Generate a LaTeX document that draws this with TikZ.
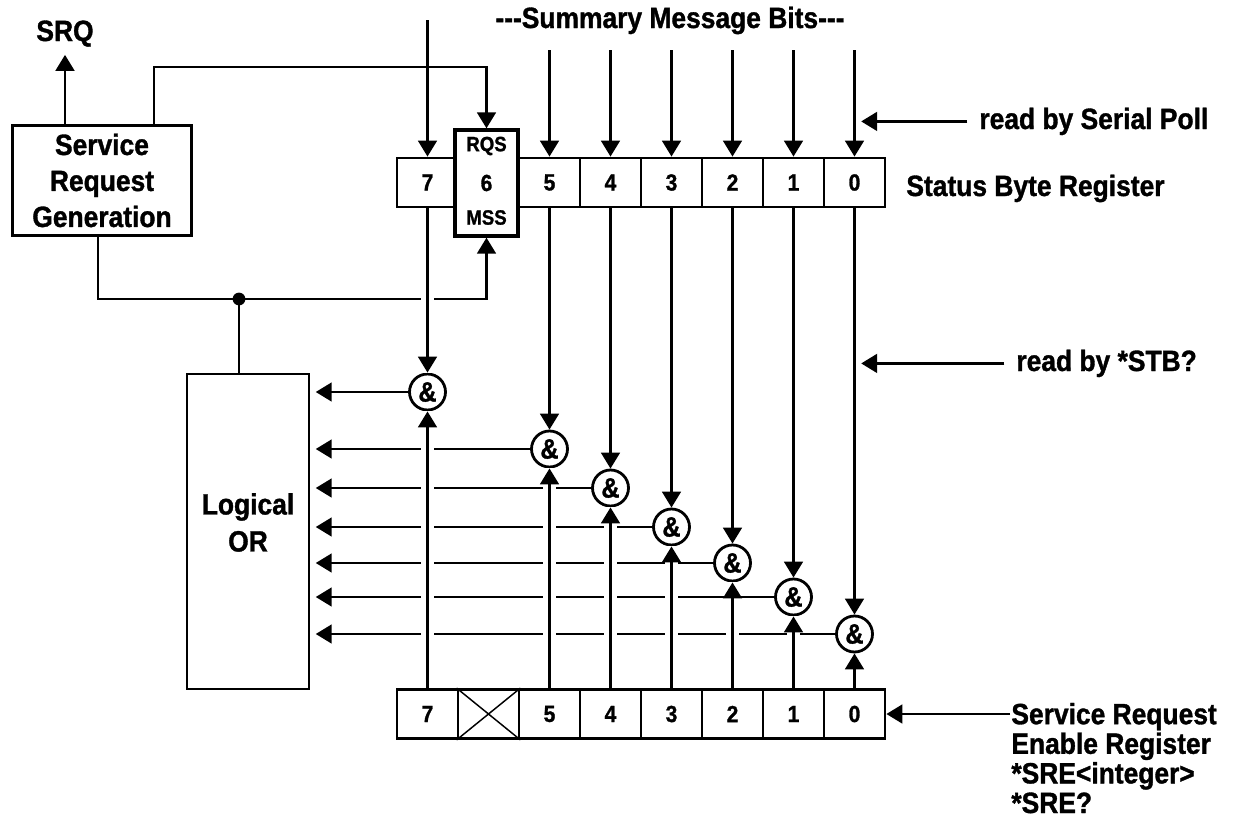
\documentclass[tikz,border=0pt]{standalone}
\usepackage{fontspec}
\newfontfamily\diagfont{Liberation Sans}[FakeStretch=0.9, FakeBold=1.2]
\usetikzlibrary{arrows.meta}

\begin{document}
\begin{tikzpicture}[x = 0.75pt, y = -0.75pt, line width = 2.1pt, font = \diagfont]
	\tikzstyle{cellStyle} = [draw, fill = white, minimum width = 45.75pt, minimum height = 36.75pt, inner sep = 0pt, font = \diagfont\fontsize{17.5}{18}\bfseries]
	\tikzstyle{boxStyle} = [draw, fill = white, align = center, inner sep = 0pt, font = \diagfont\fontsize{22}{27}\bfseries]
	\tikzstyle{gateStyle} = [draw, circle, fill = white, minimum size = 27pt, inner sep = 0pt, font = \diagfont\fontsize{21}{21}\bfseries]
	\tikzstyle{labelStyle} = [inner sep = 0pt, align = left, font = \diagfont\fontsize{22}{22.2}\bfseries]
	\tikzstyle{smallStyle} = [inner sep = 0pt, font = \diagfont\fontsize{15.5}{16}\bfseries]
	\tikzstyle{arrowStyle} = [-{Triangle[length = 12pt, width = 14pt]}]
	\tikzstyle{crossStyle} = [preaction = {draw = white, line width = 10pt, -}]
	\useasboundingbox (0,0) rectangle (1233,832);
	% boxes
	\node[boxStyle, minimum width = 134pt, minimum height = 83pt] (srg) at (102,180.5) {Service\\Request\\Generation};
	\node[boxStyle, minimum width = 91.5pt, minimum height = 236.25pt] (or) at (248,531.5) {};
	\node[boxStyle, draw = none, fill = none, font = \diagfont\fontsize{22}{27.75}\bfseries] (orText) at (248,522.5) {Logical\\OR};
	% status byte register
	\node[cellStyle] (t7) at (427.5,182.5) {7};
	\node[cellStyle] (t5) at (549.5,182.5) {5};
	\node[cellStyle] (t4) at (610.5,182.5) {4};
	\node[cellStyle] (t3) at (671.5,182.5) {3};
	\node[cellStyle] (t2) at (732.5,182.5) {2};
	\node[cellStyle] (t1) at (793.5,182.5) {1};
	\node[cellStyle] (t0) at (854.5,182.5) {0};
	\node[cellStyle, minimum width = 47.25pt, minimum height = 79.5pt, line width = 2.5pt] (rqs) at (486.5,183) {6};
	\node[smallStyle] (rqsTop) at (486.5,146) {RQS};
	\node[smallStyle] (rqsBot) at (486.5,217.5) {MSS};
	% service request enable register
	\node[cellStyle] (b7) at (427.5,714) {7};
	\node[cellStyle] (b6) at (488.5,714) {};
	\node[cellStyle] (b5) at (549.5,714) {5};
	\node[cellStyle] (b4) at (610.5,714) {4};
	\node[cellStyle] (b3) at (671.5,714) {3};
	\node[cellStyle] (b2) at (732.5,714) {2};
	\node[cellStyle] (b1) at (793.5,714) {1};
	\node[cellStyle] (b0) at (854.5,714) {0};
	\draw[line width = 1.1pt] (b6.north west) -- (b6.south east) (b6.south west) -- (b6.north east);
	% and gates
	\node[gateStyle] (g7) at (427.5,392) {\&};
	\node[gateStyle] (g5) at (549.5,449) {\&};
	\node[gateStyle] (g4) at (610.5,488) {\&};
	\node[gateStyle] (g3) at (671.5,527) {\&};
	\node[gateStyle] (g2) at (732.5,563) {\&};
	\node[gateStyle] (g1) at (793.5,597) {\&};
	\node[gateStyle] (g0) at (854.5,634) {\&};
	% texts
	\node[labelStyle, anchor = base] (srq) at (65,41) {SRQ};
	\node[labelStyle, anchor = base] (summary) at (670,28) {---Summary Message Bits---};
	\node[labelStyle, anchor = base west] (serialPoll) at (978,129) {read by Serial Poll};
	\node[labelStyle, anchor = base west] (sbr) at (905,196) {Status Byte Register};
	\node[labelStyle, anchor = base west] (stb) at (1015,371) {read by *STB?};
	\node[labelStyle, anchor = base west] (sre) at (1010,813) {Service Request\\Enable Register\\*SRE<integer>\\*SRE?};
	\coordinate (srqUp) at (154,67);
	\coordinate (srgDown) at (98,299);
	\coordinate (orJoin) at (239,299);
	\coordinate (bitTop) at (0,50);
	\coordinate (bitTopSeven) at (0,20);
	\coordinate (sreIn) at (1010,714);
	% service request
	\draw[arrowStyle, shorten > = 5pt] (srg.north -| srq) -- (srq.south);
	\draw[arrowStyle] (srg.north -| srqUp) -- (srqUp) -| (rqs.north);
	\draw[arrowStyle] (srg.south -| srgDown) -- (srgDown) -| (rqs.south);
	\fill (orJoin) circle (4.8pt);
	\draw (orJoin) -- (orJoin |- or.north);
	% summary message bits
	\draw[arrowStyle] (t7.north |- bitTopSeven) -- (t7.north);
	\draw[arrowStyle] (t5.north |- bitTop) -- (t5.north);
	\draw[arrowStyle] (t4.north |- bitTop) -- (t4.north);
	\draw[arrowStyle] (t3.north |- bitTop) -- (t3.north);
	\draw[arrowStyle] (t2.north |- bitTop) -- (t2.north);
	\draw[arrowStyle] (t1.north |- bitTop) -- (t1.north);
	\draw[arrowStyle] (t0.north |- bitTop) -- (t0.north);
	% gates into logical or
	\draw[arrowStyle, shorten > = 4pt] (g7.west) -- (g7.west -| or.east);
	\draw[arrowStyle, shorten > = 4pt] (g5.west) -- (g5.west -| or.east);
	\draw[arrowStyle, shorten > = 4pt] (g4.west) -- (g4.west -| or.east);
	\draw[arrowStyle, shorten > = 4pt] (g3.west) -- (g3.west -| or.east);
	\draw[arrowStyle, shorten > = 4pt] (g2.west) -- (g2.west -| or.east);
	\draw[arrowStyle, shorten > = 4pt] (g1.west) -- (g1.west -| or.east);
	\draw[arrowStyle, shorten > = 4pt] (g0.west) -- (g0.west -| or.east);
	% status bits into gates
	\draw[arrowStyle, crossStyle] (t7.south) -- (g7.north);
	\draw[arrowStyle] (t5.south) -- (g5.north);
	\draw[arrowStyle] (t4.south) -- (g4.north);
	\draw[arrowStyle] (t3.south) -- (g3.north);
	\draw[arrowStyle] (t2.south) -- (g2.north);
	\draw[arrowStyle] (t1.south) -- (g1.north);
	\draw[arrowStyle] (t0.south) -- (g0.north);
	% enable bits into gates
	\draw[arrowStyle, crossStyle] (b7.north) -- (g7.south);
	\draw[arrowStyle, crossStyle] (b5.north) -- (g5.south);
	\draw[arrowStyle, crossStyle] (b4.north) -- (g4.south);
	\draw[arrowStyle, crossStyle] (b3.north) -- (g3.south);
	\draw[arrowStyle, crossStyle] (b2.north) -- (g2.south);
	\draw[arrowStyle, crossStyle] (b1.north) -- (g1.south);
	\draw[arrowStyle] (b0.north) -- (g0.south);
	% reading
	\draw[arrowStyle, shorten < = 8pt, shorten > = 5pt] (serialPoll.west) -- (serialPoll.west -| t0);
	\draw[arrowStyle, shorten < = 8pt, shorten > = 5pt] (stb.west) -- (stb.west -| t0);
	\draw[arrowStyle] (sreIn) -- (b0.east);
\end{tikzpicture}
\end{document}
